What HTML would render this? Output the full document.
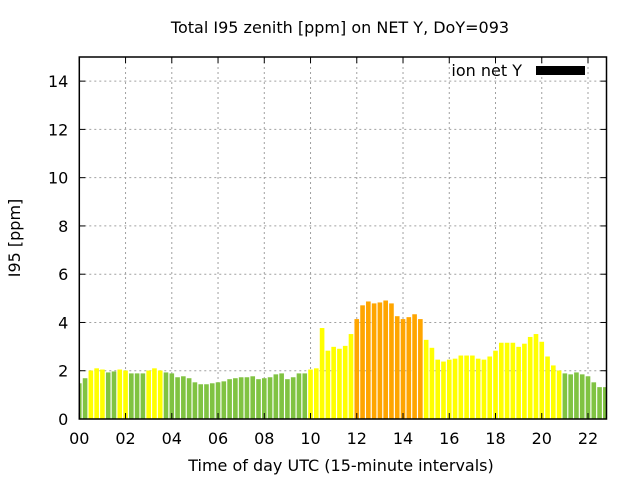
<!DOCTYPE html>
<html><head><meta charset="utf-8"><style>
body{margin:0;background:#fff;}
svg text{font-family:"DejaVu Sans","Liberation Sans",sans-serif;fill:#000;}
</style></head><body>
<svg id="chart" width="640" height="480" viewBox="0 0 640 480" xmlns="http://www.w3.org/2000/svg">
<rect width="640" height="480" fill="#fff"/>
<g id="grid"></g>
<g id="bars"></g>
<g id="axes"></g>
<text x="340" y="33" text-anchor="middle" font-size="16">Total I95 zenith [ppm] on NET Y, DoY=093</text>
<text x="341" y="471" text-anchor="middle" font-size="16">Time of day UTC (15-minute intervals)</text>
<text transform="translate(20,238) rotate(-90)" text-anchor="middle" font-size="16">I95 [ppm]</text>
<g>
<text x="522" y="76" text-anchor="end" font-size="16">ion net Y</text>
<rect x="536" y="66" width="49" height="9" fill="#000"/>
</g>
</svg>
<script>
const values=[1.48,1.69,2.01,2.10,2.05,1.93,1.97,2.05,2.01,1.89,1.89,1.89,2.01,2.10,2.01,1.93,1.89,1.73,1.77,1.69,1.52,1.44,1.44,1.48,1.52,1.56,1.65,1.69,1.73,1.73,1.77,1.65,1.69,1.73,1.85,1.89,1.65,1.73,1.89,1.89,2.05,2.10,3.77,2.83,2.99,2.91,3.03,3.52,4.14,4.71,4.87,4.79,4.83,4.91,4.79,4.26,4.14,4.22,4.34,4.14,3.28,2.95,2.46,2.38,2.46,2.50,2.63,2.63,2.63,2.50,2.46,2.59,2.83,3.16,3.16,3.16,2.99,3.12,3.40,3.52,3.20,2.59,2.22,2.01,1.89,1.85,1.93,1.85,1.77,1.52,1.32,1.32];
const xTicks=["00","02","04","06","08","10","12","14","16","18","20","22"];
const yTicks=[0,2,4,6,8,10,12,14];
const X0=79.3,X1=606.5,XMAX=22.8,Y0=419,Y1=57,YMAX=15;
const NS="http://www.w3.org/2000/svg";
function xs(h){return X0+(X1-X0)*h/XMAX;}
function ys(v){return Y0-(Y0-Y1)*v/YMAX;}
function mk(t,a,p){const e=document.createElementNS(NS,t);for(const k in a)e.setAttribute(k,a[k]);p.appendChild(e);return e;}
const grid=document.getElementById('grid'),bars=document.getElementById('bars'),axes=document.getElementById('axes');
yTicks.forEach(v=>{
 if(v>0){const g=mk('line',{x1:X0,x2:X1,y1:ys(v),y2:ys(v),stroke:'#a0a0a0','stroke-dasharray':'2,3'},grid);
 
 }
 const t=mk('text',{x:X0-11,y:ys(v)+6,'text-anchor':'end','font-size':'16'},axes);t.textContent=v;
 
 
 mk('line',{x1:X0,x2:X0+6,y1:ys(v),y2:ys(v),stroke:'#000'},axes);
 mk('line',{x1:X1,x2:X1-6,y1:ys(v),y2:ys(v),stroke:'#000'},axes);
});
xTicks.forEach(l=>{
 const h=parseInt(l,10),x=xs(h);
 if(h>0){const g=mk('line',{x1:x,x2:x,y1:Y0,y2:Y1,stroke:'#a0a0a0','stroke-dasharray':'2,3'},grid);
 
 }
 const t=mk('text',{x:x,y:Y0+25,'text-anchor':'middle','font-size':'16'},axes);t.textContent=l;
 
 
 mk('line',{x1:x,x2:x,y1:Y0,y2:Y0-6,stroke:'#000'},axes);
 mk('line',{x1:x,x2:x,y1:Y1,y2:Y1+6,stroke:'#000'},axes);
});
const pitch=xs(0.25)-xs(0),bw=pitch*0.8;
values.forEach((v,i)=>{
 const c=xs(i*0.25);let l=c-bw/2,r=c+bw/2;
 l=Math.max(l,X0);r=Math.min(r,X1);
 const col=v>=4?'#ffa500':(v>=2?'#ffff00':'#80c342');
 const b=mk('rect',{x:l,y:ys(v),width:r-l,height:Y0-ys(v),fill:col},bars);
 
 
});
const f=mk('rect',{x:X0,y:Y1,width:X1-X0,height:Y0-Y1,fill:'none',stroke:'#000','stroke-width':'1.5'},axes);


</script>
</body></html>
